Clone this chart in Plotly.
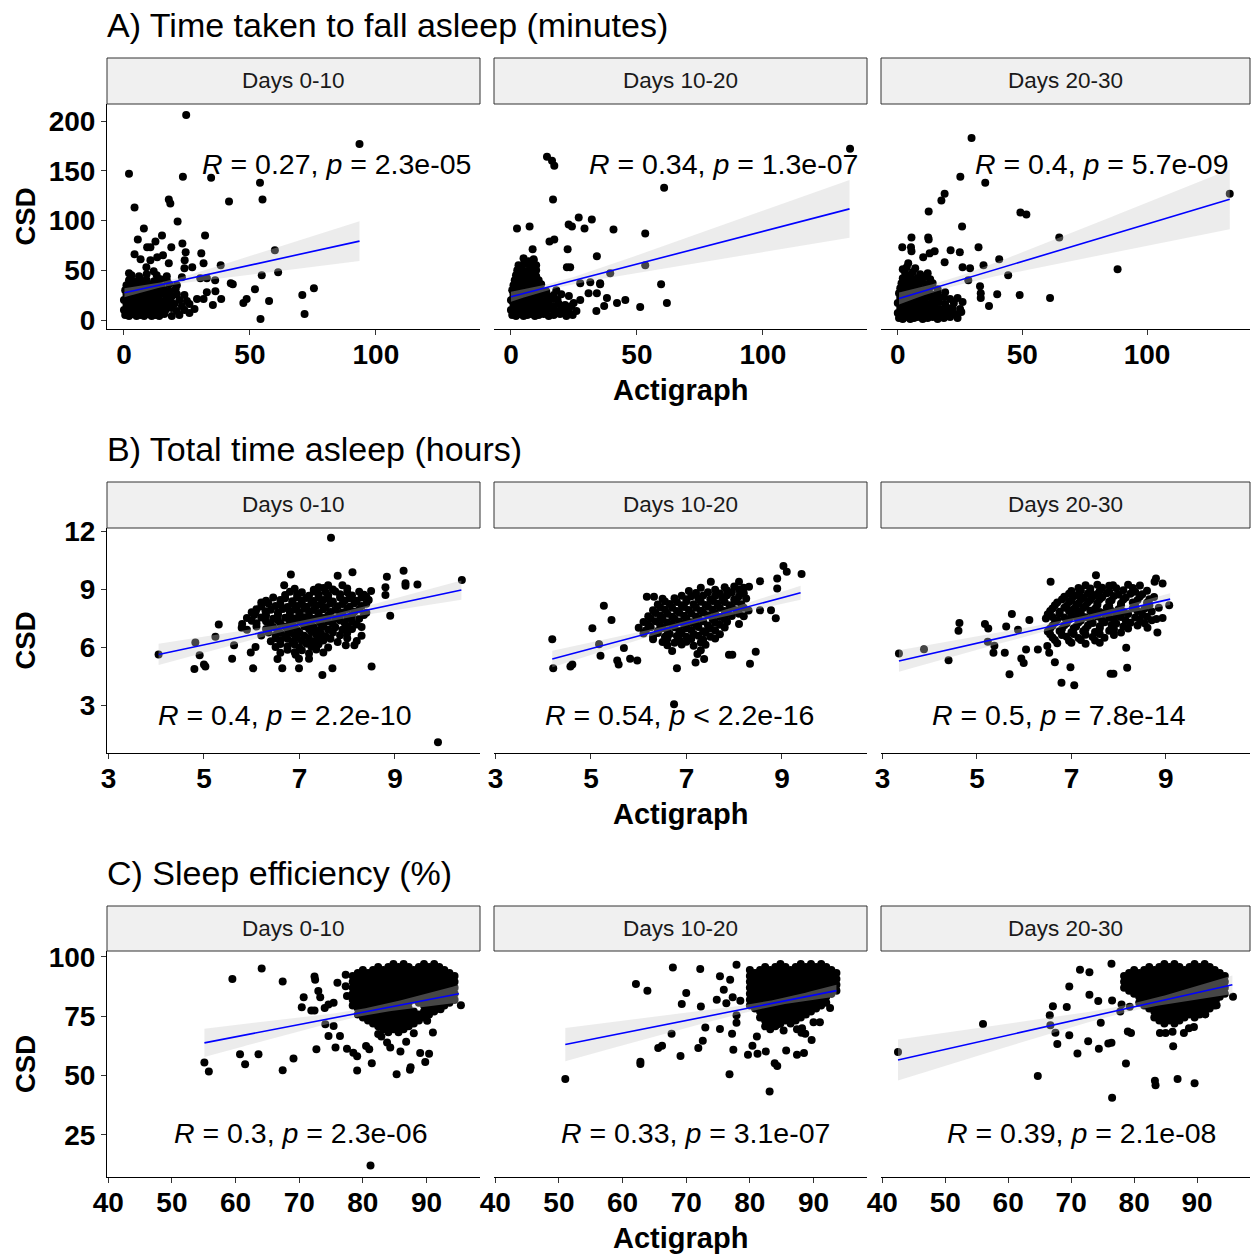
import numpy as np
import plotly.graph_objects as go

W, H = 1252, 1255

row_titles = ["A) Time taken to fall asleep (minutes)", "B) Total time asleep (hours)", "C) Sleep efficiency (%)"]
facet_labels = ["Days 0-10", "Days 10-20", "Days 20-30"]
x_title = "Actigraph"
y_title = "CSD"

# tick values per row
x_ticks = [[0, 50, 100], [3, 5, 7, 9], [40, 50, 60, 70, 80, 90]]
y_ticks = [[0, 50, 100, 150, 200], [3, 6, 9, 12], [25, 50, 75, 100]]
x_ranges = [[-6.73, 141.33], [2.97, 10.78], [39.8, 98.4]]
y_ranges = [[-9.05, 217.1], [0.52, 12.16], [7.3, 102.5]]

# ---- Row A: time to fall asleep (Actigraph x, CSD y) ----
a1_pts = [
    (24.7, 206), (93.5, 177), (2.0, 147), (23.4, 144), (34.6, 143), (54, 138), (55, 121), (4.2, 113), (17.8, 121),
    (18.4, 117), (41.7, 119), (21.3, 99), (7.9, 92), (32.2, 85), (15.1, 85), (5.5, 81), (12.5, 79), (23.2, 77),
    (18.8, 73), (9.2, 73), (10.5, 73), (59.9, 70), (24.5, 68), (4.2, 66), (15.5, 65), (13.2, 63), (30.7, 67),
    (6.6, 61), (10.5, 60), (17.8, 57), (24.1, 60), (31.6, 57), (38.4, 55), (27.1, 53), (24, 52), (2, 47), (11.8, 49),
    (8.9, 53), (54.7, 45), (61.2, 48), (23, 43), (30.3, 42), (32.9, 42), (36.2, 40), (42.4, 37), (43.2, 36),
    (75.4, 32), (52, 31), (70.8, 25), (36.3, 29), (32.9, 28), (48.7, 21), (47.4, 17), (57.6, 19), (38.6, 21),
    (31.6, 21), (35.3, 15), (71.7, 6), (54.2, 1),
    (0.5, 5), (2, 4), (3.5, 6), (5, 4), (6.5, 5), (8, 4), (9.5, 6), (11, 4), (12.5, 5), (14, 4), (16, 6), (19, 4), (22, 5), (26, 7),
    (0, 10), (1.5, 9), (3, 11), (4.5, 9), (6, 10), (7.5, 11), (9, 9), (10.5, 10), (12, 11), (14, 9), (16.5, 10), (19, 12), (21, 9), (24, 10), (28, 11),
    (1, 15), (2.5, 14), (4, 16), (5.5, 14), (7, 15), (8.5, 16), (10, 14), (11.5, 15), (13, 16), (15, 14), (17.5, 15), (20, 16), (23, 14), (26, 16),
    (0, 20), (1.5, 19), (3, 21), (4.5, 20), (6, 19), (7.5, 21), (9, 20), (10.5, 19), (12, 21), (14, 20), (16, 19), (18.5, 21), (22, 20), (25, 19), (29, 21),
    (1, 25), (2.5, 24), (4, 26), (5.5, 25), (7, 24), (8.5, 26), (10, 25), (12, 24), (14, 26), (16.5, 25), (19, 24), (21, 26), (24, 25),
    (0.5, 30), (2, 29), (3.5, 31), (5, 30), (6.5, 29), (8, 31), (9.5, 30), (11.5, 29), (13.5, 31), (16, 30), (18, 29), (20.5, 31),
    (1, 35), (3, 34), (5, 36), (7, 35), (9, 34), (11, 36), (13, 35), (15, 34), (18, 36), (21, 35),
    (2, 40), (4, 39), (6.5, 41), (9, 40), (12, 39), (14.5, 41), (17, 40),
    (3, 45), (6, 44), (9, 46), (13, 45), (17, 44),
]
a2_pts = [
    (134.6, 172), (14.3, 164), (16.3, 160), (17.2, 155), (60.8, 133), (16.7, 121), (2.4, 92), (7.4, 94), (26.9, 103),
    (32.1, 101), (22.9, 96), (24.2, 94), (29.2, 92), (40.7, 91), (53.3, 87), (15.3, 79), (17.2, 81), (22.5, 71),
    (8.6, 71), (34.1, 64), (5, 62), (9, 61), (22.2, 53), (23.5, 53), (53.3, 55), (39.4, 47), (59.6, 36), (61.9, 17),
    (51.3, 13), (45.4, 20), (42.1, 17), (38.1, 22), (37, 14), (33.9, 9), (30.8, 27), (34.1, 27), (35.4, 36),
    (35.4, 37), (27.5, 37), (31.5, 38), (27.5, 20), (24.9, 17), (20.9, 9),
    (0.5, 5), (2, 4), (3.5, 6), (5, 4), (6.5, 5), (8, 6), (9.5, 4), (11, 5), (13, 6), (15, 4), (17, 5), (19.5, 6), (22, 4), (24.5, 5),
    (0, 10), (1.5, 11), (3, 9), (4.5, 10), (6, 11), (7.5, 9), (9, 10), (10.5, 11), (12, 9), (14, 10), (16, 11), (18, 9), (20, 11), (23, 10), (26, 9),
    (1, 15), (2.5, 14), (4, 16), (5.5, 15), (7, 14), (8.5, 16), (10, 15), (11.5, 14), (13, 16), (15, 15), (17, 14), (19, 16), (21.5, 15), (24, 14),
    (0, 20), (1.5, 21), (3, 19), (4.5, 20), (6, 21), (7.5, 19), (9, 20), (10.5, 21), (12, 19), (14, 20), (16, 21), (18.5, 20),
    (1, 25), (2.5, 26), (4, 24), (5.5, 25), (7, 26), (8.5, 24), (10, 25), (12, 26), (14.5, 24), (17, 25), (20, 26), (23, 24),
    (0.5, 30), (2, 31), (3.5, 29), (5, 30), (6.5, 31), (8, 29), (9.5, 30), (11.5, 31), (14, 29), (18, 30),
    (1, 35), (2.5, 36), (4, 34), (5.5, 35), (7, 36), (8.5, 34), (10, 35), (12, 36),
    (1.5, 40), (3, 41), (4.5, 39), (6, 40), (7.5, 41), (9, 39), (11, 40),
    (2, 45), (3.5, 46), (5, 44), (6.5, 45), (8.5, 46), (10, 44),
    (2.5, 50), (4, 51), (6, 49), (8, 51), (10, 50),
    (3, 55), (5, 56), (7.5, 54), (10, 55),
    (7, 59), (9, 60),
]
a3_pts = [
    (29.6, 183), (25.1, 144), (35.1, 138), (18.8, 127), (17.5, 120), (12.4, 109), (49.2, 108), (51.6, 106), (25.8, 94),
    (5.5, 83), (12.2, 83), (12.4, 81), (133.2, 127), (64.8, 83), (1.8, 73), (5.3, 73), (5.5, 69), (14.8, 69),
    (12.8, 67), (10.2, 63), (21.2, 70), (24.9, 68), (32.4, 73), (18.8, 58), (40.7, 61), (34.4, 55), (26, 53),
    (29, 52), (4.2, 57), (3.6, 53), (88.2, 51), (44.3, 45), (28.3, 40), (33, 34), (33.3, 27), (33.3, 22), (39.9, 26),
    (48.9, 25), (61.1, 22), (36.6, 14),
    (0.5, 2), (2, 1), (3.5, 3), (5, 1), (6.5, 2), (8, 3), (10, 1), (12, 2), (14, 3), (16, 1), (18.5, 2), (21, 3), (24, 2),
    (0, 7), (1.5, 6), (3, 8), (4.5, 7), (6, 6), (7.5, 8), (9, 7), (10.5, 6), (12, 8), (14, 7), (16, 6), (18, 8), (20.5, 7), (23, 6), (25.5, 8),
    (1, 12), (2.5, 11), (4, 13), (5.5, 12), (7, 11), (8.5, 13), (10, 12), (11.5, 11), (13, 13), (15, 12), (17, 11), (19.5, 13), (22, 12), (25, 11),
    (0, 17), (1.5, 18), (3, 16), (4.5, 17), (6, 18), (7.5, 16), (9, 17), (10.5, 18), (12, 16), (14, 17), (16.5, 18), (19, 16), (22.5, 17), (26, 18),
    (1, 22), (2.5, 23), (4, 21), (5.5, 22), (7, 23), (8.5, 21), (10, 22), (12, 23), (14, 21), (16, 22), (18.5, 23), (21, 21), (24, 22),
    (0.5, 27), (2, 28), (3.5, 26), (5, 27), (6.5, 28), (8, 26), (9.5, 27), (11.5, 28), (13.5, 26), (16, 27), (19, 28),
    (1, 32), (2.5, 33), (4, 31), (5.5, 32), (7, 33), (9, 31), (11, 32), (13, 33), (16, 31),
    (1.5, 37), (3, 38), (5, 36), (7, 37), (9, 38), (11.5, 36), (14, 37),
    (2, 42), (4, 43), (6, 41), (8, 42), (10.5, 43), (13, 41),
    (3, 47), (6, 48), (9, 46), (12, 47),
    (2, 51), (7, 52),
]

# ---- Row B: total sleep time (hours) ----
b1_pts = [
    (7.66, 11.66), (9.9, 1.07), (10.4, 9.47), (9.18, 9.95), (9.47, 9.24), (9.22, 9.3), (9.22, 9.17), (8.83, 9.64),
    (8.11, 9.87), (7.8, 9.69), (6.82, 9.76), (6.68, 9.2), (8.9, 7.62), (4.05, 5.62), (4.82, 6.24), (5.31, 7.17),
    (5.24, 6.53), (4.8, 4.86), (4.91, 5.58), (5.0, 5.1), (5.03, 5.0), (5.59, 5.4), (5.63, 6.1), (5.79, 7.0),
    (6.03, 4.9), (6.2, 8.3), (6.08, 7.8), (6.29, 7.85), (5.98, 5.72), (6.08, 6.0), (6.54, 5.38), (6.64, 4.9),
    (6.99, 4.9), (7.48, 4.56), (7.69, 4.9), (8.51, 5.0), (7.2, 5.4), (6.92, 5.6), (6.99, 5.4), (7.97, 6.1),
    (8.15, 6.1), (8.8, 9.1), (8.8, 8.7), (8.5, 8.9), (8.4, 8.6), (7.9, 9.2), (7.4, 9.1), (7.6, 9.2),
    (6.9, 9.02), (7.3, 8.97), (7.5, 9.05), (7.7, 8.98), (8.0, 9.03),
    (6.7, 8.7), (6.95, 8.74), (7.2, 8.66), (7.4, 8.72), (7.6, 8.68), (7.85, 8.73), (8.1, 8.67), (8.35, 8.71),
    (6.3, 8.4), (6.6, 8.44), (6.85, 8.37), (7.05, 8.42), (7.3, 8.38), (7.5, 8.43), (7.7, 8.36), (7.95, 8.41), (8.2, 8.39), (8.45, 8.44),
    (6.2, 8.1), (6.5, 8.13), (6.75, 8.07), (6.95, 8.12), (7.15, 8.08), (7.35, 8.14), (7.55, 8.06), (7.8, 8.11), (8.05, 8.09), (8.3, 8.13),
    (6.0, 7.8), (6.3, 7.83), (6.55, 7.77), (6.8, 7.82), (7.0, 7.78), (7.2, 7.84), (7.4, 7.76), (7.65, 7.81), (7.9, 7.79), (8.15, 7.83), (8.4, 7.77),
    (5.9, 7.5), (6.2, 7.53), (6.45, 7.47), (6.7, 7.52), (6.9, 7.48), (7.1, 7.54), (7.3, 7.46), (7.5, 7.51), (7.75, 7.49), (8.0, 7.53), (8.25, 7.47),
    (5.8, 7.2), (6.1, 7.23), (6.4, 7.17), (6.6, 7.22), (6.85, 7.18), (7.05, 7.24), (7.25, 7.16), (7.45, 7.21), (7.7, 7.19), (7.95, 7.23), (8.2, 7.17),
    (5.9, 6.9), (6.3, 6.93), (6.55, 6.87), (6.75, 6.92), (6.95, 6.88), (7.2, 6.94), (7.4, 6.86), (7.6, 6.91), (7.9, 6.89), (8.1, 6.93),
    (6.2, 6.6), (6.5, 6.63), (6.7, 6.57), (6.9, 6.62), (7.1, 6.58), (7.35, 6.64), (7.55, 6.56), (7.85, 6.61), (8.3, 6.59),
    (6.4, 6.3), (6.6, 6.33), (6.85, 6.27), (7.05, 6.32), (7.3, 6.28), (7.5, 6.34), (7.8, 6.26), (8.2, 6.31),
    (6.5, 6.0), (6.75, 6.03), (7.0, 5.97), (7.25, 6.02), (7.6, 5.98),
    (6.6, 5.7), (6.9, 5.73), (7.2, 5.67), (7.5, 5.72),
]
b1_fill = [
    (6.8, 8.86), (7.05, 8.83), (7.3, 8.87), (7.55, 8.84), (7.75, 8.88), (8.0, 8.83), (8.25, 8.86),
    (6.45, 8.56), (6.7, 8.53), (6.95, 8.57), (7.15, 8.54), (7.4, 8.58), (7.6, 8.53), (7.85, 8.56), (8.05, 8.52), (8.3, 8.57),
    (6.35, 8.26), (6.6, 8.23), (6.85, 8.27), (7.05, 8.24), (7.25, 8.28), (7.45, 8.22), (7.65, 8.26), (7.9, 8.23), (8.15, 8.27), (8.4, 8.24),
    (6.1, 7.96), (6.4, 7.93), (6.65, 7.97), (6.9, 7.94), (7.1, 7.98), (7.3, 7.92), (7.5, 7.96), (7.75, 7.93), (8.0, 7.97), (8.25, 7.94),
    (6.05, 7.66), (6.3, 7.63), (6.55, 7.67), (6.8, 7.64), (7.0, 7.68), (7.2, 7.62), (7.4, 7.66), (7.6, 7.63), (7.85, 7.67), (8.1, 7.64), (8.35, 7.66),
    (6.0, 7.36), (6.3, 7.33), (6.55, 7.37), (6.8, 7.34), (7.0, 7.38), (7.2, 7.32), (7.4, 7.36), (7.6, 7.33), (7.85, 7.37), (8.1, 7.34),
    (6.1, 7.06), (6.45, 7.03), (6.7, 7.07), (6.9, 7.04), (7.1, 7.08), (7.3, 7.02), (7.5, 7.06), (7.75, 7.03), (8.0, 7.07), (8.3, 7.04),
    (6.35, 6.76), (6.6, 6.73), (6.8, 6.77), (7.0, 6.74), (7.25, 6.78), (7.45, 6.72), (7.7, 6.76), (8.0, 6.73),
    (6.5, 6.46), (6.75, 6.43), (6.95, 6.47), (7.2, 6.44), (7.4, 6.48), (7.65, 6.43), (8.0, 6.46),
    (6.6, 6.16), (6.9, 6.13), (7.15, 6.17), (7.4, 6.14),
    (6.75, 5.86), (7.05, 5.83), (7.35, 5.87),
]
b2_pts = [
    (9.41, 9.78), (9.03, 10.2), (9.1, 9.9), (8.9, 9.55), (8.9, 9.03), (8.54, 9.41), (8.31, 9.12), (8.1, 9.38),
    (7.51, 9.38), (7.3, 9.07), (7.05, 8.9), (6.17, 8.6), (6.32, 8.6), (5.27, 8.14), (5.43, 7.4), (5.03, 6.97),
    (4.19, 6.41), (5.17, 6.14), (4.21, 4.9), (4.57, 5.0), (4.61, 5.1), (5.2, 5.55), (5.55, 5.3), (5.58, 5.1),
    (5.82, 5.4), (5.97, 5.3), (5.69, 5.95), (6.8, 4.9), (6.74, 3.04), (8.45, 5.76), (8.33, 5.14), (7.19, 5.2),
    (7.37, 5.38), (7.23, 5.64), (7.89, 5.6), (7.96, 5.6), (8.77, 7.9), (8.54, 7.9), (8.87, 7.49), (8.1, 7.2), (8.2, 7.6),
    (7.8, 9.1), (8.0, 9.13), (8.2, 9.07),
    (7.2, 8.8), (7.45, 8.83), (7.7, 8.77), (7.95, 8.82), (8.2, 8.78),
    (6.5, 8.5), (6.75, 8.53), (7.0, 8.47), (7.25, 8.52), (7.5, 8.48), (7.75, 8.54), (8.0, 8.46), (8.25, 8.51),
    (6.4, 8.2), (6.65, 8.23), (6.9, 8.17), (7.15, 8.22), (7.4, 8.18), (7.65, 8.24), (7.9, 8.16), (8.15, 8.21),
    (6.3, 7.9), (6.55, 7.93), (6.8, 7.87), (7.05, 7.92), (7.3, 7.88), (7.55, 7.94), (7.8, 7.86), (8.05, 7.91), (8.3, 7.89),
    (6.2, 7.6), (6.45, 7.63), (6.7, 7.57), (6.95, 7.62), (7.2, 7.58), (7.45, 7.64), (7.7, 7.56), (7.95, 7.61),
    (6.1, 7.3), (6.35, 7.33), (6.6, 7.27), (6.85, 7.32), (7.1, 7.28), (7.35, 7.34), (7.6, 7.26), (7.85, 7.31),
    (6.0, 7.0), (6.25, 7.03), (6.5, 6.97), (6.75, 7.02), (7.0, 6.98), (7.25, 7.04), (7.5, 6.96), (7.8, 7.01),
    (6.1, 6.7), (6.4, 6.73), (6.65, 6.67), (6.9, 6.72), (7.15, 6.68), (7.4, 6.74), (7.7, 6.66),
    (6.3, 6.4), (6.6, 6.43), (6.85, 6.37), (7.1, 6.42), (7.35, 6.38), (7.6, 6.44),
    (6.6, 6.1), (6.9, 6.13), (7.15, 6.07), (7.4, 6.12),
    (6.7, 5.8), (7.3, 5.83),
]
b2_fill = [
    (7.6, 8.96), (7.85, 8.93), (8.1, 8.97),
    (6.9, 8.66), (7.1, 8.63), (7.35, 8.67), (7.6, 8.64), (7.85, 8.68), (8.1, 8.63),
    (6.55, 8.36), (6.8, 8.33), (7.0, 8.37), (7.3, 8.34), (7.55, 8.38), (7.8, 8.33), (8.05, 8.36),
    (6.45, 8.06), (6.7, 8.03), (6.95, 8.07), (7.2, 8.04), (7.45, 8.08), (7.7, 8.02), (7.95, 8.06), (8.2, 8.03),
    (6.35, 7.76), (6.6, 7.73), (6.85, 7.77), (7.1, 7.74), (7.35, 7.78), (7.6, 7.72), (7.85, 7.76), (8.1, 7.73),
    (6.25, 7.46), (6.5, 7.43), (6.75, 7.47), (7.0, 7.44), (7.25, 7.48), (7.55, 7.42), (7.8, 7.46),
    (6.2, 7.16), (6.45, 7.13), (6.7, 7.17), (6.95, 7.14), (7.2, 7.18), (7.45, 7.12), (7.7, 7.16),
    (6.15, 6.86), (6.4, 6.83), (6.6, 6.87), (6.85, 6.84), (7.1, 6.88), (7.35, 6.82), (7.6, 6.86),
    (6.3, 6.56), (6.55, 6.53), (6.8, 6.57), (7.0, 6.54), (7.25, 6.58), (7.5, 6.53),
    (6.5, 6.26), (6.75, 6.23), (7.0, 6.27), (7.3, 6.24),
]
b3_pts = [
    (3.35, 5.67), (3.88, 5.89), (4.4, 5.32), (4.63, 7.24), (4.61, 6.84), (5.17, 7.19), (5.24, 6.96), (5.23, 6.27),
    (5.37, 6.07), (5.35, 5.71), (5.59, 5.71), (5.74, 7.71), (5.69, 4.59), (5.62, 7.07), (5.87, 6.9), (5.94, 5.41),
    (5.99, 5.17), (6.11, 7.4), (6.04, 5.88), (6.29, 5.88), (6.56, 9.38), (6.46, 7.48), (6.49, 6.05), (6.53, 5.71),
    (6.65, 5.21), (6.79, 4.15), (7.06, 4.02), (6.98, 4.95), (7.52, 9.72), (8.16, 5.97), (8.18, 4.93), (7.83, 4.62),
    (7.89, 4.62), (7.88, 9.2), (8.79, 9.55), (8.93, 9.29), (8.76, 9.38), (9.07, 8.17), (8.82, 6.76), (8.61, 7.0),
    (8.8, 7.45), (8.93, 7.5),
    (7.3, 9.2), (7.55, 9.23), (7.8, 9.17), (8.2, 9.22), (8.45, 9.18),
    (7.0, 8.9), (7.2, 8.93), (7.4, 8.87), (7.6, 8.92), (7.8, 8.88), (8.1, 8.94), (8.35, 8.86), (8.6, 8.91),
    (6.85, 8.6), (7.05, 8.63), (7.25, 8.57), (7.45, 8.62), (7.65, 8.58), (7.9, 8.64), (8.15, 8.56), (8.45, 8.61), (8.75, 8.59),
    (6.7, 8.3), (6.95, 8.33), (7.15, 8.27), (7.35, 8.32), (7.55, 8.28), (7.8, 8.34), (8.05, 8.26), (8.3, 8.31), (8.6, 8.29),
    (6.6, 8.0), (6.85, 8.03), (7.05, 7.97), (7.25, 8.02), (7.5, 7.98), (7.75, 8.04), (8.0, 7.96), (8.3, 8.01), (8.55, 7.99), (8.85, 8.03),
    (6.5, 7.7), (6.75, 7.73), (7.0, 7.67), (7.2, 7.72), (7.45, 7.68), (7.7, 7.74), (7.95, 7.66), (8.2, 7.71), (8.5, 7.69),
    (6.7, 7.4), (6.95, 7.43), (7.2, 7.37), (7.4, 7.42), (7.65, 7.38), (7.9, 7.44), (8.15, 7.36), (8.45, 7.41), (8.7, 7.39),
    (6.6, 7.1), (6.85, 7.13), (7.1, 7.07), (7.35, 7.12), (7.6, 7.08), (7.85, 7.14), (8.1, 7.06), (8.4, 7.11),
    (6.5, 6.8), (6.75, 6.83), (7.0, 6.77), (7.25, 6.82), (7.5, 6.78), (7.8, 6.84), (8.05, 6.76),
    (6.6, 6.5), (6.9, 6.53), (7.15, 6.47), (7.45, 6.52), (7.7, 6.48),
    (6.7, 6.2), (7.0, 6.23), (7.3, 6.17), (7.6, 6.22),
]
b3_fill = [
    (7.15, 9.06), (7.4, 9.03), (7.65, 9.07), (7.95, 9.04), (8.3, 9.06),
    (6.95, 8.76), (7.15, 8.73), (7.35, 8.77), (7.55, 8.74), (7.75, 8.78), (8.0, 8.72), (8.25, 8.76), (8.5, 8.73),
    (6.8, 8.46), (7.0, 8.43), (7.2, 8.47), (7.4, 8.44), (7.6, 8.48), (7.85, 8.42), (8.1, 8.46), (8.4, 8.43), (8.65, 8.47),
    (6.65, 8.16), (6.9, 8.13), (7.1, 8.17), (7.3, 8.14), (7.55, 8.18), (7.8, 8.12), (8.05, 8.16), (8.35, 8.13), (8.65, 8.17),
    (6.55, 7.86), (6.75, 7.83), (6.95, 7.87), (7.15, 7.84), (7.4, 7.88), (7.6, 7.82), (7.85, 7.86), (8.1, 7.83), (8.4, 7.87), (8.7, 7.84),
    (6.6, 7.56), (6.85, 7.53), (7.1, 7.57), (7.3, 7.54), (7.55, 7.58), (7.8, 7.52), (8.05, 7.56), (8.35, 7.53), (8.6, 7.57),
    (6.65, 7.26), (6.9, 7.23), (7.15, 7.27), (7.45, 7.24), (7.7, 7.28), (7.95, 7.22), (8.25, 7.26), (8.55, 7.23),
    (6.55, 6.96), (6.8, 6.93), (7.05, 6.97), (7.3, 6.94), (7.6, 6.98), (7.9, 6.92), (8.2, 6.96),
    (6.55, 6.66), (6.8, 6.63), (7.05, 6.67), (7.3, 6.64), (7.6, 6.68), (7.9, 6.63),
    (6.65, 6.36), (6.95, 6.33), (7.2, 6.37), (7.5, 6.34),
]

# ---- Row C: sleep efficiency (%) : scattered points ----
c1_pts = [
    (64.1, 95.1), (59.5, 90.7), (67.4, 89.7), (72.4, 91.8), (72.5, 90.4), (77.3, 92.5), (55.1, 55.5), (55.8, 51.7),
    (60.7, 59), (61.5, 54.8), (63.6, 59), (67.4, 52.3), (69.1, 57.2), (72.7, 61.1), (75.7, 61.8), (79.1, 52.2),
    (81.4, 55.2), (85.3, 50.6), (87.5, 53.5), (87.4, 52.5), (89.8, 55.7), (89, 59.5), (90.4, 59.2), (85.9, 60.2),
    (95.4, 79.7), (92.2, 78), (91, 68.2), (90.1, 73.1), (88, 67.9), (86.8, 64.3), (83.8, 64), (84.3, 61.9),
    (82.9, 66.5), (82.4, 67.5), (81, 61.1), (80.5, 62.5), (78.5, 59.6), (79.1, 58.2), (77.5, 61.3), (76.4, 66.7),
    (74.6, 66.7), (75.4, 70.9), (74.1, 71.6), (70.7, 83), (73.3, 83), (71.9, 77.4), (72.4, 77.4), (70.4, 78.8),
    (74, 78.5), (74.6, 80), (75.4, 80.7), (77.5, 83.5), (77.3, 87.7), (76, 89.1), (73, 85.6), (81.2, 12.1),
]
c2_pts = [
    (51, 48.6), (62.1, 88.6), (63.9, 85.8), (67.9, 95.6), (72.2, 94.9), (77.9, 96.7), (70, 84.8), (69.3, 80.2),
    (72.3, 79.1), (67.7, 67.6), (66.2, 62.6), (65.6, 61.6), (62.8, 55.9), (62.8, 54.9), (69.1, 58.3), (71.9, 61.6),
    (72.6, 64.7), (73, 70.3), (75.3, 69.6), (77.2, 67.6), (76.8, 50.6), (77.4, 60.9), (79.7, 58.8), (81.2, 59.2),
    (82.5, 60.2), (83.9, 55.2), (84.3, 54.1), (83.1, 43.3), (85.7, 60.6), (87.4, 58.8), (88.5, 59.5), (89.7, 65),
    (88.7, 67.6), (88.1, 68.1), (91, 72.5), (90, 72.5), (92.6, 78.5), (93.5, 86.2), (77.9, 75.4), (77.9, 72.3),
    (74.8, 82), (75.9, 86.2), (75.3, 91.9), (76.9, 90.4), (76.3, 80.5), (77.3, 83), (78.5, 81.5), (80.4, 62.6),
    (81.1, 66.5), (84.5, 71.7), (85.3, 69), (87.4, 69.5), (88.2, 70),
]
c3_pts = [
    (42.5, 60), (56, 71.8), (64.7, 49.8), (76.5, 40.7), (83.3, 47.8), (83.4, 46), (86.9, 48.6), (89.6, 46.8),
    (78.7, 55.1), (86.2, 62.4), (76.4, 97.1), (71.4, 94.6), (72.9, 93.5), (69.7, 87.5), (72.9, 84.1), (67.1, 79.2),
    (69.3, 78.9), (66.6, 75.4), (66.7, 71.2), (67.5, 68.1), (67.8, 63.3), (69.7, 67), (71, 59.3), (72.7, 64.5),
    (74.4, 61.3), (75.9, 63.5), (76.4, 63.9), (74.7, 72.3), (74.3, 81.4), (76.5, 81.7), (79, 68.6), (79.5, 68),
    (84.1, 68), (85, 68), (86.1, 68.5), (87.9, 68), (88.7, 70), (89.5, 70.5), (90, 75.8), (91.3, 75.8),
    (93.1, 79.6), (93, 82), (95.7, 83.2), (77.8, 77), (79.3, 79), (78, 80),
]
# dense cores of row C, as rows: (CSD value, [Actigraph values])
c1_core = [
    (97.0, [84.8, 86.4, 89.6, 91.2]),
    (95.75, [82.4, 84.0, 85.6, 87.2, 88.8, 90.4, 92.0]),
    (94.5, [80.0, 81.6, 83.2, 84.8, 86.4, 88.0, 89.6, 91.2, 92.8]),
    (93.25, [79.2, 80.8, 82.4, 84.0, 85.6, 87.2, 88.8, 90.4, 92.0, 93.6]),
    (92.0, [78.4, 80.0, 81.6, 83.2, 84.8, 86.4, 88.0, 89.6, 91.2, 92.8, 94.4]),
    (90.75, [79.2, 80.8, 82.4, 84.0, 85.6, 87.2, 88.8, 90.4, 92.0, 93.6]),
    (89.5, [78.4, 80.0, 81.6, 83.2, 84.8, 86.4, 88.0, 89.6, 91.2, 92.8, 94.4]),
    (88.25, [79.2, 80.8, 82.4, 84.0, 85.6, 87.2, 88.8, 90.4, 92.0, 93.6]),
    (87.0, [78.4, 80.0, 81.6, 83.2, 84.8, 86.4, 88.0, 89.6, 91.2, 92.8, 94.4]),
    (85.75, [79.2, 80.8, 82.4, 84.0, 85.6, 87.2, 88.8, 90.4, 92.0, 93.6]),
    (84.5, [78.4, 80.0, 81.6, 83.2, 84.8, 86.4, 88.0, 89.6, 91.2, 92.8, 94.4]),
    (83.25, [79.2, 80.8, 82.4, 84.0, 85.6, 87.2, 88.8, 90.4, 92.0, 93.6]),
    (82.0, [78.4, 80.0, 81.6, 83.2, 84.8, 86.4, 88.0, 89.6, 91.2, 92.8, 94.4]),
    (80.75, [79.2, 80.8, 82.4, 84.0, 85.6, 87.2, 88.8, 90.4, 92.0, 93.6]),
    (79.5, [78.4, 80.0, 81.6, 83.2, 84.8, 86.4, 89.6, 91.2, 92.8]),
    (78.25, [79.2, 80.8, 82.4, 84.0, 85.6, 87.2, 90.4, 92.0]),
    (77.0, [80.0, 81.6, 83.2, 84.8, 86.4, 88.0, 89.6, 91.2]),
    (75.75, [79.2, 80.8, 82.4, 84.0, 85.6, 87.2, 88.8, 90.4]),
    (74.5, [80.0, 81.6, 83.2, 84.8, 86.4, 88.0, 89.6]),
    (73.25, [80.8, 82.4, 84.0, 85.6, 87.2, 88.8]),
    (72.0, [81.6, 83.2, 84.8, 86.4, 88.0]),
    (70.75, [82.4, 84.0, 85.6, 87.2]),
    (69.5, [83.2, 84.8, 86.4]),
    (68.25, [84.0, 85.6]),
]
c2_core = [
    (97.0, [84.8, 88.0, 89.6, 91.2]),
    (95.75, [82.4, 84.0, 85.6, 87.2, 88.8, 90.4, 92.0]),
    (94.5, [80.0, 81.6, 83.2, 84.8, 86.4, 88.0, 89.6, 91.2, 92.8]),
    (93.25, [80.8, 82.4, 84.0, 85.6, 87.2, 88.8, 90.4, 92.0, 93.6]),
    (92.0, [80.0, 81.6, 83.2, 84.8, 86.4, 88.0, 89.6, 91.2, 92.8]),
    (90.75, [80.8, 82.4, 84.0, 85.6, 87.2, 88.8, 90.4, 92.0, 93.6]),
    (89.5, [80.0, 81.6, 83.2, 84.8, 86.4, 88.0, 89.6, 91.2, 92.8]),
    (88.25, [80.8, 82.4, 84.0, 85.6, 87.2, 88.8, 90.4, 92.0, 93.6]),
    (87.0, [80.0, 81.6, 83.2, 84.8, 86.4, 88.0, 89.6, 91.2, 92.8]),
    (85.75, [80.8, 82.4, 84.0, 85.6, 87.2, 88.8, 90.4, 92.0, 93.6]),
    (84.5, [80.0, 81.6, 83.2, 84.8, 86.4, 88.0, 89.6, 91.2, 92.8]),
    (83.25, [80.8, 82.4, 84.0, 85.6, 87.2, 88.8, 90.4, 92.0]),
    (82.0, [80.0, 81.6, 83.2, 84.8, 86.4, 88.0, 89.6, 91.2]),
    (80.75, [80.8, 82.4, 84.0, 85.6, 87.2, 88.8, 90.4, 92.0]),
    (79.5, [80.0, 81.6, 83.2, 84.8, 86.4, 88.0, 89.6, 91.2]),
    (78.25, [80.8, 82.4, 84.0, 85.6, 87.2, 88.8, 90.4]),
    (77.0, [81.6, 83.2, 84.8, 86.4, 88.0, 89.6]),
    (75.75, [82.4, 84.0, 85.6, 87.2, 88.8]),
    (74.5, [81.6, 83.2, 84.8, 86.4, 88.0]),
    (73.25, [82.4, 84.0, 85.6, 87.2]),
    (72.0, [83.2, 84.8, 86.4]),
    (70.75, [82.4, 84.0]),
    (69.5, [83.2]),
]
c3_core = [
    (97.0, [84.8, 86.4, 89.6, 91.2]),
    (95.75, [82.4, 84.0, 85.6, 87.2, 88.8, 90.4, 92.0]),
    (94.5, [80.0, 81.6, 83.2, 84.8, 86.4, 88.0, 89.6, 91.2, 92.8]),
    (93.25, [79.2, 80.8, 82.4, 84.0, 85.6, 87.2, 88.8, 90.4, 92.0, 93.6]),
    (92.0, [78.4, 80.0, 81.6, 83.2, 84.8, 86.4, 88.0, 89.6, 91.2, 92.8, 94.4]),
    (90.75, [79.2, 80.8, 82.4, 84.0, 85.6, 87.2, 88.8, 90.4, 92.0, 93.6]),
    (89.5, [78.4, 80.0, 81.6, 83.2, 84.8, 86.4, 88.0, 89.6, 91.2, 92.8, 94.4]),
    (88.25, [79.2, 80.8, 82.4, 84.0, 85.6, 87.2, 88.8, 90.4, 92.0, 93.6]),
    (87.0, [78.4, 80.0, 81.6, 83.2, 84.8, 86.4, 88.0, 89.6, 91.2, 92.8, 94.4]),
    (85.75, [79.2, 80.8, 82.4, 84.0, 85.6, 87.2, 88.8, 90.4, 92.0, 93.6]),
    (84.5, [80.0, 81.6, 83.2, 84.8, 86.4, 88.0, 89.6, 91.2, 92.8, 94.4]),
    (83.25, [80.8, 82.4, 84.0, 85.6, 87.2, 88.8, 90.4, 92.0, 93.6]),
    (82.0, [81.6, 83.2, 84.8, 86.4, 88.0, 89.6, 91.2, 92.8]),
    (80.75, [80.8, 82.4, 84.0, 85.6, 87.2, 88.8, 90.4, 92.0]),
    (79.5, [81.6, 83.2, 84.8, 86.4, 88.0, 89.6, 91.2, 92.8]),
    (78.25, [82.4, 84.0, 85.6, 87.2, 88.8, 90.4, 92.0]),
    (77.0, [83.2, 84.8, 86.4, 88.0, 89.6, 91.2]),
    (75.75, [84.0, 85.6, 87.2, 88.8, 90.4]),
    (74.5, [83.2, 84.8, 86.4, 88.0, 89.6]),
    (73.25, [84.0, 85.6, 87.2]),
    (72.0, [84.8, 86.4]),
]

def core_points(rows):
    return [(xv, yv) for yv, xs in rows for xv in xs]

# ---- regression fits (per panel, row-major) ----
fit_x0 = [0.2, 0.0, 0.5, 4.05, 4.19, 3.35, 55.1, 51.0, 42.5]
fit_x1 = [93.5, 134.4, 133.2, 10.39, 9.39, 9.09, 95.1, 93.6, 95.6]
fit_y0 = [27.3, 23.3, 21.7, 5.62, 5.38, 5.28, 63.8, 63.1, 56.6]
fit_y1 = [79.3, 111.7, 121.3, 8.95, 8.81, 8.48, 84.5, 85.8, 88.3]
band_left = [4.5, 5.0, 6.0, 0.55, 0.43, 0.56, 6.0, 7.0, 8.6]
band_min = [2.5, 3.0, 4.0, 0.15, 0.12, 0.15, 1.5, 1.3, 1.5]
band_right = [20.0, 29.0, 30.0, 0.5, 0.36, 0.3, 3.7, 2.5, 3.9]

cor_labels = [
    "<i>R</i> = 0.27, <i>p</i> = 2.3e-05", "<i>R</i> = 0.34, <i>p</i> = 1.3e-07", "<i>R</i> = 0.4, <i>p</i> = 5.7e-09",
    "<i>R</i> = 0.4, <i>p</i> = 2.2e-10", "<i>R</i> = 0.54, <i>p</i> < 2.2e-16", "<i>R</i> = 0.5, <i>p</i> = 7.8e-14",
    "<i>R</i> = 0.3, <i>p</i> = 2.3e-06", "<i>R</i> = 0.33, <i>p</i> = 3.1e-07", "<i>R</i> = 0.39, <i>p</i> = 2.1e-08",
]
cor_label_pos = [(30, 157), (4.0, 2.48), (50, 25.8)]  # per row (x, y) in data units

panels = [a1_pts, a2_pts, a3_pts,
          b1_pts + b1_fill, b2_pts + b2_fill, b3_pts + b3_fill,
          c1_pts + core_points(c1_core), c2_pts + core_points(c2_core), c3_pts + core_points(c3_core)]

# ---- layout geometry (pixels) ----
col_px = [(107, 480), (494, 867), (881, 1250)]
row_plot_px = [(104, 329), (528, 753), (951, 1177)]
row_strip_px = [(58, 104), (482, 528), (906, 951)]
row_title_y = [25, 449, 873]
row_xtitle_y = [390, 814, 1238]

FONT = "Liberation Sans, Arial, sans-serif"

def px_x(p):
    return p / W

def px_y(p):
    return 1 - p / H

fig = go.Figure()
layout = dict(template="none", width=W, height=H,
              margin=dict(l=0, r=0, t=0, b=0, pad=0, autoexpand=False),
              paper_bgcolor="white", plot_bgcolor="white", showlegend=False,
              font=dict(family=FONT, color="black"))
shapes = []
annotations = []

for k, pts in enumerate(panels):
    r, c = divmod(k, 3)
    n = k + 1
    xa = "x" if n == 1 else f"x{n}"
    ya = "y" if n == 1 else f"y{n}"
    arr = np.array(pts, dtype=float)
    fig.add_trace(go.Scatter(x=arr[:, 0], y=arr[:, 1], mode="markers", xaxis=xa, yaxis=ya,
                             marker=dict(color="black", size=8, line=dict(width=0)), hoverinfo="skip"))
    # confidence band (hyperbolic shape through read half-widths)
    x0, x1 = fit_x0[k], fit_x1[k]
    y0, y1 = fit_y0[k], fit_y1[k]
    a = band_min[k] ** 2
    rl = np.sqrt(band_left[k] ** 2 - a)
    rr = np.sqrt(band_right[k] ** 2 - a)
    xm = x0 + (x1 - x0) * rl / (rl + rr)
    bcoef = (band_left[k] ** 2 - a) / (xm - x0) ** 2
    xs = np.linspace(x0, x1, 80)
    ys = y0 + (y1 - y0) * (xs - x0) / (x1 - x0)
    hw = np.sqrt(a + bcoef * (xs - xm) ** 2)
    fig.add_trace(go.Scatter(x=np.concatenate([xs, xs[::-1]]), y=np.concatenate([ys + hw, (ys - hw)[::-1]]),
                             mode="lines", fill="toself", fillcolor="rgba(200,200,200,0.35)",
                             line=dict(width=0), xaxis=xa, yaxis=ya, hoverinfo="skip"))
    fig.add_trace(go.Scatter(x=[x0, x1], y=[y0, y1], mode="lines", line=dict(color="#0000FF", width=1.6),
                             xaxis=xa, yaxis=ya, hoverinfo="skip"))

    cl, cr = col_px[c]
    pt, pb = row_plot_px[r]
    xkey = "xaxis" if n == 1 else f"xaxis{n}"
    ykey = "yaxis" if n == 1 else f"yaxis{n}"
    layout[xkey] = dict(domain=[px_x(cl), px_x(cr)], anchor=ya, range=x_ranges[r], automargin=False,
                        tickvals=x_ticks[r], ticktext=[str(v) for v in x_ticks[r]],
                        showgrid=False, zeroline=False, showline=True, linecolor="black", linewidth=1,
                        ticks="outside", ticklen=5, tickwidth=1, tickcolor="#333333",
                        tickfont=dict(family=FONT, size=28, color="black", weight="bold"),
                        ticklabelstandoff=-5, fixedrange=True)
    ydict = dict(domain=[px_y(pb), px_y(pt)], anchor=xa, range=y_ranges[r], automargin=False,
                 showgrid=False, zeroline=False, fixedrange=True)
    if c == 0:
        ydict.update(tickvals=y_ticks[r], ticktext=[str(v) for v in y_ticks[r]],
                     showline=True, linecolor="black", linewidth=1,
                     ticks="outside", ticklen=5, tickwidth=1, tickcolor="#333333",
                     tickfont=dict(family=FONT, size=28, color="black", weight="bold"))
    else:
        ydict.update(showline=False, showticklabels=False, ticks="")
    layout[ykey] = ydict

    # strip
    st, sb = row_strip_px[r]
    shapes.append(dict(type="rect", xref="paper", yref="paper", x0=px_x(cl), x1=px_x(cr),
                       y0=px_y(sb), y1=px_y(st), fillcolor="#F0F0F0", line=dict(color="#333333", width=1)))
    annotations.append(dict(xref="paper", yref="paper", x=px_x((cl + cr) / 2), y=px_y((st + sb) / 2),
                            text=facet_labels[c], showarrow=False, xanchor="center", yanchor="middle",
                            font=dict(family=FONT, size=22.5, color="#1A1A1A")))
    # correlation label
    lx, ly = cor_label_pos[r]
    annotations.append(dict(xref=xa, yref=ya, x=lx, y=ly, text=cor_labels[k], showarrow=False,
                            xanchor="left", yanchor="middle", font=dict(family=FONT, size=28.5, color="black")))

for r in range(3):
    annotations.append(dict(xref="paper", yref="paper", x=px_x(105), y=px_y(row_title_y[r]),
                            text=row_titles[r], showarrow=False, xanchor="left", yanchor="middle",
                            font=dict(family=FONT, size=34, color="black")))
    annotations.append(dict(xref="paper", yref="paper", x=px_x(680.5), y=px_y(row_xtitle_y[r]),
                            text=x_title, showarrow=False, xanchor="center", yanchor="middle",
                            font=dict(family=FONT, size=29, color="black", weight="bold")))
    pt, pb = row_plot_px[r]
    annotations.append(dict(xref="paper", yref="paper", x=px_x(25), y=px_y((pt + pb) / 2),
                            text=y_title, showarrow=False, xanchor="center", yanchor="middle", textangle=-90,
                            font=dict(family=FONT, size=27.5, color="black", weight="bold")))

layout["shapes"] = shapes
layout["annotations"] = annotations
fig.update_layout(**layout)
fig.write_html("out.html", config={"displayModeBar": False},
               post_script="document.body.style.margin='0px';document.body.style.padding='0px';"
                           "document.body.style.overflow='hidden';")
